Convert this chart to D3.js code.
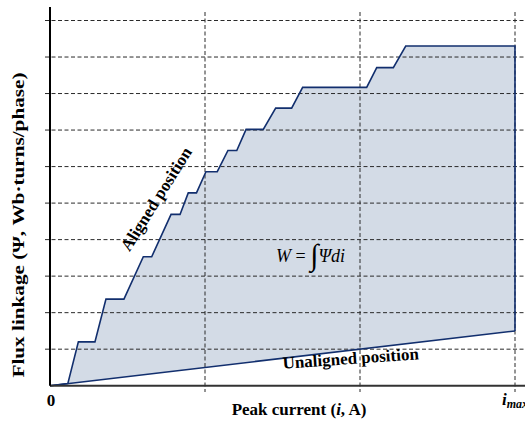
<!DOCTYPE html>
<html>
<head>
<meta charset="utf-8">
<style>
body { margin: 0; background: #fff; }
svg { display: block; }
.grid line { stroke: #2a2a2a; stroke-width: 1; stroke-dasharray: 4,2.5; }
text { font-family: "Liberation Serif", "Times New Roman", serif; fill: #000; }
.lbl { font-weight: bold; font-size: 17px; }
</style>
</head>
<body>
<svg width="525" height="422"></svg>
<script src="https://d3js.org/d3.v7.min.js"></script>
<script>

// aligned-position magnetisation curve (current, flux linkage)
var alignedI   = [0.115, 0.183, 0.29, 0.361, 0.477, 0.602, 0.656, 0.781, 0.839, 0.892, 0.945, 1.006, 1.079, 1.148, 1.205, 1.265, 1.376, 1.456, 1.559, 1.630, 2.043, 2.108, 2.215, 2.295, 3.0];
var alignedPsi = [0.058, 1.20, 1.20, 2.37, 2.37, 3.53, 3.53, 4.69, 4.69, 5.28, 5.28, 5.86, 5.86, 6.44, 6.44, 7.02, 7.02, 7.60, 7.60, 8.17, 8.17, 8.71, 8.71, 9.30, 9.30];
// unaligned position: straight line
var unalignedI   = [0, 3.0];
var unalignedPsi = [0, 1.5];
// gridline positions
var xGrid = [1, 2, 3];
var yGrid = [1, 2, 3, 4, 5, 6, 7, 8, 9, 10];

var svg = d3.select("svg");

var x = d3.scaleLinear().domain([0, 3]).range([50, 515]),
    y = d3.scaleLinear().domain([0, 10]).range([385.7, 20.5]);

var aligned = alignedI.map(function(d, i) { return [d, alignedPsi[i]]; });
var unaligned = unalignedI.map(function(d, i) { return [d, unalignedPsi[i]]; });

var line = d3.line()
    .x(function(d) { return x(d[0]); })
    .y(function(d) { return y(d[1]); });

// shaded co-energy area: aligned curve, then back along the unaligned line
var area = aligned.concat([[3.0, 1.5], [0.115, 0.058]]);
svg.append("path")
    .attr("d", line(area) + "Z")
    .attr("fill", "#d3dbe6")
    .attr("stroke", "none");

// dashed grid
var grid = svg.append("g").attr("class", "grid");
grid.selectAll(".h").data(yGrid).enter().append("line")
    .attr("x1", 45).attr("x2", 525)
    .attr("y1", function(d) { return y(d); })
    .attr("y2", function(d) { return y(d); });
grid.selectAll(".v").data(xGrid).enter().append("line")
    .attr("y1", 12).attr("y2", 392)
    .attr("x1", function(d) { return x(d); })
    .attr("x2", function(d) { return x(d); });

// curves
svg.append("path")
    .attr("d", line([[0, 0]].concat(aligned).concat([[3.0, 1.5]])))
    .attr("fill", "none")
    .attr("stroke", "#122f6e")
    .attr("stroke-width", 1.6);
svg.append("path")
    .attr("d", line(unaligned))
    .attr("fill", "none")
    .attr("stroke", "#122f6e")
    .attr("stroke-width", 1.6);

// axes
svg.append("line")
    .attr("x1", x(0)).attr("x2", 525)
    .attr("y1", y(0)).attr("y2", y(0))
    .attr("stroke", "#333").attr("stroke-width", 2);
svg.append("line")
    .attr("x1", x(0)).attr("x2", x(0))
    .attr("y1", 7).attr("y2", y(0))
    .attr("stroke", "#000").attr("stroke-width", 2);

// labels
svg.append("text").attr("class", "lbl")
    .attr("x", x(0) + 1).attr("y", 406)
    .attr("text-anchor", "middle")
    .text("0");

var im = svg.append("text").attr("class", "lbl")
    .attr("x", 502).attr("y", 405)
    .attr("font-style", "italic");
im.append("tspan").attr("font-size", 17).text("i");
im.append("tspan").attr("font-size", 12).attr("dy", 3).text("max");

svg.append("text").attr("class", "lbl")
    .attr("x", 299).attr("y", 415)
    .attr("text-anchor", "middle")
    .html("Peak current (<tspan font-style='italic'>i</tspan>, A)");

svg.append("text").attr("class", "lbl")
    .attr("transform", "translate(24,225) rotate(-90)")
    .attr("text-anchor", "middle")
    .attr("textLength", 305)
    .attr("lengthAdjust", "spacingAndGlyphs")
    .text("Flux linkage (Ψ, Wb·turns/phase)");

svg.append("text").attr("class", "lbl")
    .attr("transform", "translate(161,202) rotate(-58)")
    .attr("text-anchor", "middle")
    .text("Aligned position");

svg.append("text").attr("class", "lbl")
    .attr("transform", "translate(351,364) rotate(-4)")
    .attr("text-anchor", "middle")
    .text("Unaligned position");

var eq = svg.append("text")
    .attr("x", 276).attr("y", 262)
    .attr("font-size", 18);
eq.append("tspan").attr("font-style", "italic").text("W");
eq.append("tspan").text(" = ");
eq.append("tspan").attr("font-size", 30).attr("dy", 3).text("∫");
eq.append("tspan").attr("font-style", "italic").attr("dy", -3).text("Ψdi");

</script>
</body>
</html>
